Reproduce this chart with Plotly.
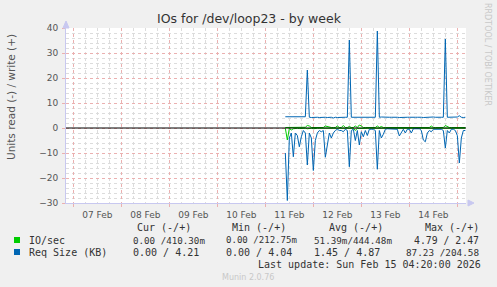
import plotly.graph_objects as go
import pandas as pd

# ---------------- data ----------------
start_time = "2026-02-11 10:00"
x_start = "2026-02-06 20:20"
x_end = "2026-02-15 04:20"

# Req Size (KB), read values (plotted negative)
req_read = [
    10, 29, 4, 2, 11.5, 2, 3, 7.5, 3.5, 1,
    2, 14.8, 2, 4, 17, 5, 2, 1, 1.5, 1,
    11.7, 6, 2, 4, 2, 1, 0.5, 1, 1, 1.5,
    0.5, 1, 15.5, 1, 0.5, 5, 1, 6.8, 1.5, 3.5,
    1, 3, 0.5, 0.5, 0.5, 1, 16.5, 1, 4, 2.5,
    0.5, 0.3, 0.3, 0.3, 0.3, 0.3, 0.5, 3.2, 2, 0.5,
    2, 0.5, 0.5, 2, 0.3, 0.3, 0.3, 0.3, 1, 4.8,
    5.5, 2, 1, 1.5, 0.5, 0.5, 0.5, 0.5, 0.5, 1,
    8, 1, 2, 0.5, 0.5, 1, 3, 14, 4, 1,
    1,
]
# Req Size (KB), write values
req_write = [
    4.5, 4.5, 4.5, 4.5, 4.5, 4.5, 4.4, 4.3, 4.5, 4.5,
    4.5, 23.2, 4.3, 4.2, 4.3, 4.3, 4.3, 4.2, 4.3, 4.3,
    4.3, 4.2, 4.3, 4.3, 4.0, 4.3, 4.2, 4.3, 4.3, 4.4,
    4.3, 4.3, 35.2, 4.3, 4.3, 4.2, 4.3, 4.4, 4.3, 4.3,
    4.2, 4.3, 4.3, 4.3, 4.2, 4.3, 38.8, 4.3, 4.4, 4.3,
    4.2, 4.3, 4.3, 4.3, 4.4, 4.3, 4.3, 4.2, 4.3, 4.3,
    4.4, 4.3, 4.3, 4.2, 4.3, 4.3, 4.3, 4.4, 4.3, 4.2,
    4.3, 4.3, 4.3, 4.3, 4.4, 4.3, 4.2, 4.3, 4.3, 4.3,
    35.6, 4.3, 4.3, 4.2, 4.3, 4.3, 4.4, 4.9, 4.3, 4.2,
    4.3,
]
# IO/sec, read values (plotted negative)
io_read = [
    0.1, 4.79, 0.2, 0.8, 0.3, 0.1, 0.1, 0.2, 0.1, 0.1,
    0.1, 0.3, 0.1, 0.1, 0.3, 0.1, 0.1, 0.1, 0.1, 0.1,
    0.2, 0.1, 0.1, 0.1, 0.1, 0.1, 0.1, 0.1, 0.1, 0.1,
    0.1, 0.1, 0.3, 0.1, 0.1, 1.0, 0.1, 0.2, 0.1, 0.1,
    0.1, 0.1, 0.1, 0.1, 0.1, 0.1, 0.3, 0.1, 0.1, 0.1,
    0.1, 0.1, 0.1, 0.1, 0.1, 0.1, 0.1, 0.1, 0.1, 0.1,
    0.1, 0.1, 0.1, 0.1, 0.1, 0.1, 0.1, 0.1, 0.1, 0.2,
    0.2, 0.1, 0.1, 0.1, 0.1, 0.1, 0.1, 0.1, 0.1, 0.1,
    0.2, 0.1, 0.1, 0.1, 0.1, 0.1, 0.1, 0.3, 0.1, 0.1,
    0.1,
]
# IO/sec, write values
io_write = [
    0.2, 0.2, 0.2, 0.2, 0.2, 0.2, 0.2, 0.2, 0.2, 0.2,
    0.3, 1.0, 0.8, 0.2, 0.2, 0.2, 0.2, 0.2, 0.2, 0.2,
    0.8, 0.6, 0.2, 0.2, 0.2, 0.2, 0.8, 0.2, 0.2, 1.0,
    0.2, 0.2, 0.6, 0.2, 0.2, 0.8, 0.2, 1.2, 0.8, 0.2,
    0.2, 0.2, 0.2, 0.2, 0.2, 0.2, 0.8, 0.2, 0.6, 0.2,
    0.2, 0.2, 0.2, 0.2, 0.2, 0.2, 0.2, 0.2, 0.2, 0.2,
    0.2, 0.2, 0.2, 0.2, 0.2, 0.2, 0.2, 0.2, 0.2, 0.2,
    0.2, 0.2, 0.2, 0.8, 0.2, 0.2, 0.2, 0.2, 0.2, 0.2,
    1.0, 0.6, 0.2, 0.2, 0.2, 0.2, 0.2, 0.2, 0.2, 0.2,
    0.2,
]

series_names = ["IO/sec", "Req Size (KB)"]
stat_headers = ["Cur (-/+)", "Min (-/+)", "Avg (-/+)", "Max (-/+)"]
io_stats = [("0.00", "410.30m"), ("0.00", "212.75m"), ("51.39m", "444.48m"), ("4.79", "2.47")]
req_stats = [("0.00", "4.21"), ("0.00", "4.04"), ("1.45", "4.87"), ("87.23", "204.58")]
last_update = "Last update: Sun Feb 15 04:20:00 2026"

times = pd.date_range(start_time, periods=len(req_write), freq="h")

GREEN = "#00CC00"
BLUE = "#0066B3"
MGRID = "#EBB0B0"
GRID = "#DCDCDC"
AXIS = "#C8C8F0"
TXT = "#333333"

fig = go.Figure()
fig.add_trace(go.Scatter(x=times, y=[-v for v in io_read], mode="lines",
                         line=dict(color=GREEN, width=1), showlegend=False))
fig.add_trace(go.Scatter(x=times, y=io_write, mode="lines",
                         line=dict(color=GREEN, width=1), showlegend=False))
fig.add_trace(go.Scatter(x=times, y=[-v for v in req_read], mode="lines",
                         line=dict(color=BLUE, width=1), showlegend=False))
fig.add_trace(go.Scatter(x=times, y=req_write, mode="lines",
                         line=dict(color=BLUE, width=1), showlegend=False))

L, R, T, B = 66, 31, 28, 84
W, H = 497, 287
PW, PH = W - L - R, H - T - B


def px(xp):
    return (xp - L) / PW


def py(yp):
    return (H - B - yp) / PH


shapes = [
    # zero line
    dict(type="line", xref="paper", yref="y", x0=0, x1=1, y0=0, y1=0,
         line=dict(color="#000000", width=1), layer="above"),
    # axis arrows
    dict(type="path", xref="paper", yref="paper",
         path=f"M {px(63)} {py(28)} L {px(69)} {py(28)} L {px(66)} {py(21)} Z",
         fillcolor=AXIS, line=dict(color=AXIS, width=1)),
    dict(type="path", xref="paper", yref="paper",
         path=f"M {px(468)} {py(200)} L {px(468)} {py(206)} L {px(474)} {py(203)} Z",
         fillcolor=AXIS, line=dict(color=AXIS, width=1)),
    # legend squares
    dict(type="rect", xref="paper", yref="paper", x0=px(14), x1=px(20), y0=py(243), y1=py(237),
         fillcolor=GREEN, line=dict(width=0)),
    dict(type="rect", xref="paper", yref="paper", x0=px(14), x1=px(20), y0=py(255), y1=py(249),
         fillcolor=BLUE, line=dict(width=0)),
]

MONO = "DejaVu Sans Mono"
CHAR = 0.602  # DejaVu Sans Mono advance width in em
ann = []


def text(x, y, s, anchor="left", size=10, color=TXT, family=MONO, angle=0):
    ann.append(dict(x=px(x), y=py(y), xref="paper", yref="paper", text=s, showarrow=False,
                    xanchor=anchor, yanchor="middle", textangle=angle,
                    font=dict(family=family, size=size, color=color)))


# legend header
for hx, h in zip([135, 230, 327, 423], stat_headers):
    text(hx, 227.5, h)
text(27, 240, series_names[0])
text(27, 252, series_names[1])

io_left = [131, 224, 312, 412]
io_right = [203, 295, 390, 477]
req_left = [131, 224, 312, 404]
req_right = [203, 296, 389, 477]


def cell(r, w):
    sep = "/" if r.endswith("m") else " /"
    if not w.endswith("m") and len(r + sep + w) < 12:
        w = " " + w
    return r + sep + w


for row_y, stats, lefts, rights in [(240, io_stats, io_left, io_right),
                                    (252, req_stats, req_left, req_right)]:
    for i, (r, w) in enumerate(stats):
        s = cell(r, w)
        width = rights[i] - lefts[i]
        size = min(10, width / (len(s) * CHAR))
        text(lefts[i], row_y, s, size=round(size, 2))

text(483, 264, last_update, anchor="right")
text(248, 277, "Munin 2.0.76", anchor="center", size=8, color="#C8C8C8", family="DejaVu Sans")
text(488, 54, "RRDTOOL / TOBI OETIKER", anchor="center", size=8, color="#C8C8C8",
     family="DejaVu Sans", angle=90)
text(11, 97, "Units read (-) / write (+)", anchor="center", size=10.5, color="#555555",
     family="DejaVu Sans", angle=-90)

fig.update_layout(
    width=W, height=H,
    margin=dict(l=L, r=R, t=T, b=B),
    paper_bgcolor="#F0F0F0",
    plot_bgcolor="#FFFFFF",
    title=dict(text="IOs for /dev/loop23 - by week", x=0.501, xanchor="center",
               y=1 - 19 / H, yanchor="middle",
               font=dict(family="DejaVu Sans", size=12.5, color="#333333")),
    shapes=shapes,
    annotations=ann,
    showlegend=False,
    xaxis=dict(
        type="date", range=[x_start, x_end],
        tick0="2026-02-07", dtick=86400000, ticklabelmode="period", tickformat="%d %b",
        showgrid=True, gridcolor=MGRID, griddash="dot", gridwidth=1,
        ticks="outside", ticklen=3, tickcolor=MGRID,
        minor=dict(dtick=21600000, showgrid=True, gridcolor=GRID, griddash="dot", ticks=""),
        showline=True, linecolor=AXIS, linewidth=1,
        zeroline=False,
        tickfont=dict(family="DejaVu Sans", size=9, color="#555555"),
        fixedrange=True,
    ),
    yaxis=dict(
        range=[-30, 40], dtick=10, tick0=0,
        showgrid=True, gridcolor=MGRID, griddash="dot", gridwidth=1,
        ticks="outside", ticklen=3, tickcolor=MGRID,
        minor=dict(dtick=2, showgrid=True, gridcolor=GRID, griddash="dot", ticks=""),
        showline=True, linecolor=AXIS, linewidth=1,
        zeroline=False,
        tickfont=dict(family="DejaVu Sans", size=9, color="#555555"),
        ticklabelstandoff=2,
        fixedrange=True,
    ),
)

fig.write_html("out.html")
